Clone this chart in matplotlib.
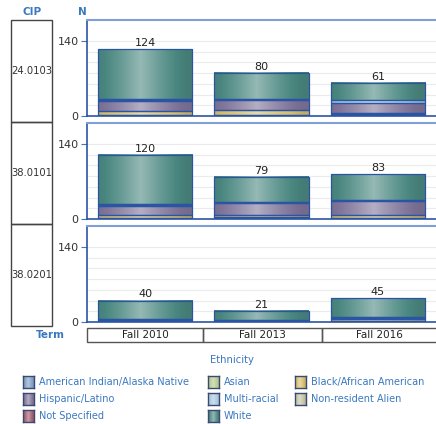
import numpy as np
import matplotlib
matplotlib.use("Agg")
import matplotlib.pyplot as plt
from matplotlib.patches import Rectangle
from matplotlib.colors import to_rgb

# data
cips = ['24.0103', '38.0101', '38.0201']
terms = ['Fall 2010', 'Fall 2013', 'Fall 2016']
ethnicities = ['American Indian/Alaska Native', 'Asian', 'Black/African American',
               'Hispanic/Latino', 'Multi-racial', 'Non-resident Alien',
               'Not Specified', 'White']
eth_colors = ['#7d9ec4', '#b4c98f', '#d6bd6c', '#7f7499', '#a9c9de', '#c4c3a6',
              '#a05a6c', '#4a8780']

counts_24_0103 = [[1, 2, 2], [0, 0, 1], [8, 10, 3], [19, 17, 18],
                  [2, 2, 5], [0, 0, 0], [2, 0, 0], [92, 49, 32]]
counts_38_0101 = [[1, 2, 2], [0, 2, 0], [7, 3, 6], [17, 23, 25],
                  [2, 2, 2], [0, 0, 0], [1, 0, 0], [92, 47, 48]]
counts_38_0201 = [[2, 1, 1], [0, 0, 0], [0, 0, 5], [2, 3, 2],
                  [1, 0, 2], [0, 0, 0], [0, 0, 0], [35, 17, 35]]
panel_counts = [counts_24_0103, counts_38_0101, counts_38_0201]

W, H = 436, 424
fig = plt.figure(figsize=(W / 100, H / 100), dpi=100)
BLUE = '#3a78c0'
EDGE = '#2a55a5'


def px(x0, y0, x1, y1):
    # pixel box -> figure fraction rect
    return [x0 / W, 1 - y1 / H, (x1 - x0) / W, (y1 - y0) / H]


def gradient(color, n=64):
    c = np.array(to_rgb(color))
    t = np.linspace(0, 1, n)
    f = np.clip(1 - np.abs(2 * t - 0.9), 0, 1)
    f = 0.5 * f ** 1.3 - 0.08
    img = np.where(f[:, None] >= 0,
                   c[None, :] * (1 - f[:, None]) + f[:, None],
                   c[None, :] * (1 + f[:, None]))
    return np.clip(img, 0, 1)[None, :, :]


def shade(ax, patch, color):
    x, y = patch.get_xy()
    w, h = patch.get_width(), patch.get_height()
    if h <= 0:
        return
    ax.imshow(gradient(color), extent=(x, x + w, y, y + h), aspect='auto',
              interpolation='bilinear', zorder=2)


tops = [20, 123, 226]
xpos = np.arange(len(terms))
for p, (top, counts) in enumerate(zip(tops, panel_counts)):
    ax = fig.add_axes(px(87, top, 436, top + 96))
    bottom = np.zeros(len(terms))
    for e, vals in enumerate(counts):
        vals = np.array(vals, dtype=float)
        bars = ax.bar(xpos, vals, 0.81, bottom=bottom, color=eth_colors[e],
                      edgecolor=EDGE, linewidth=0.9, zorder=3)
        for b in bars:
            if b.get_height() > 0:
                shade(ax, b, eth_colors[e])
                b.set_facecolor('none')
            else:
                b.set_visible(False)
        bottom += vals
    for i, tot in enumerate(bottom):
        ax.text(xpos[i], tot + 2, '%d' % tot, ha='center', va='bottom',
                fontsize=8, color='#222222', zorder=4)
    ax.set_xlim(-0.5, 2.5)
    ax.set_ylim(0, 179)
    ax.set_yticks([0, 140])
    ax.set_yticks(np.arange(20, 141, 20), minor=True)
    ax.grid(True, which='both', axis='y', color='#ebebeb', linewidth=0.8, zorder=0)
    ax.set_axisbelow(True)
    ax.set_xticks([])
    ax.tick_params(axis='y', which='major', length=4, color=BLUE, labelsize=8,
                   labelcolor='#333333', pad=2)
    ax.tick_params(axis='y', which='minor', length=0)
    for s in ['left', 'bottom']:
        ax.spines[s].set_color(EDGE)
        ax.spines[s].set_linewidth(1.2)
    ax.spines['top'].set_color('#7f9fd8')
    ax.spines['top'].set_linewidth(1.5)
    ax.spines['right'].set_visible(False)
    ax.set_facecolor('white')

    # CIP box on the left
    cy0 = 20 + p * 102
    fig.patches.append(Rectangle((11 / W, 1 - (cy0 + 102) / H), 41 / W, 102 / H,
                                 transform=fig.transFigure, fill=False,
                                 edgecolor='#444444', linewidth=1))
    fig.text(31.5 / W, 1 - (cy0 + 51) / H, cips[p], ha='center', va='center',
             fontsize=7.2, color='#333333')

# term boxes
cells = [(87, 203), (203, 322), (322, 437)]
for (x0, x1), t in zip(cells, terms):
    fig.patches.append(Rectangle((x0 / W, 1 - 342 / H), (x1 - x0) / W, 14 / H,
                                 transform=fig.transFigure, fill=False,
                                 edgecolor='#555555', linewidth=1))
    fig.text((x0 + x1) / 2 / W, 1 - 335 / H, t, ha='center', va='center',
             fontsize=7.5, color='#222222')

fig.text(32 / W, 1 - 12 / H, 'CIP', ha='center', va='center', fontsize=7.5,
         fontweight='bold', color=BLUE)
fig.text(82 / W, 1 - 12 / H, 'N', ha='center', va='center', fontsize=7.5,
         fontweight='bold', color=BLUE)
fig.text(50 / W, 1 - 335 / H, 'Term', ha='center', va='center', fontsize=7.5,
         fontweight='bold', color=BLUE)

# legend, laid out like the reference (three columns)
fig.text(232 / W, 1 - 360 / H, 'Ethnicity', ha='center', va='center',
         fontsize=7.2, color=BLUE)
col_x = [23, 208, 295]
row_y = [382, 399, 416]
for e, name in enumerate(ethnicities):
    col, row = e % 3, e // 3
    x0, yc = col_x[col], row_y[row]
    lax = fig.add_axes(px(x0, yc - 6, x0 + 11, yc + 6))
    lax.imshow(gradient(eth_colors[e]), extent=(0, 1, 0, 1), aspect='auto',
               interpolation='bilinear')
    lax.set_xticks([])
    lax.set_yticks([])
    for s in lax.spines.values():
        s.set_color('#3a4a70')
        s.set_linewidth(1)
    fig.text((x0 + 16) / W, 1 - yc / H, name, ha='left', va='center',
             fontsize=7.0, color=BLUE)

fig.savefig('out.png', dpi=100)
